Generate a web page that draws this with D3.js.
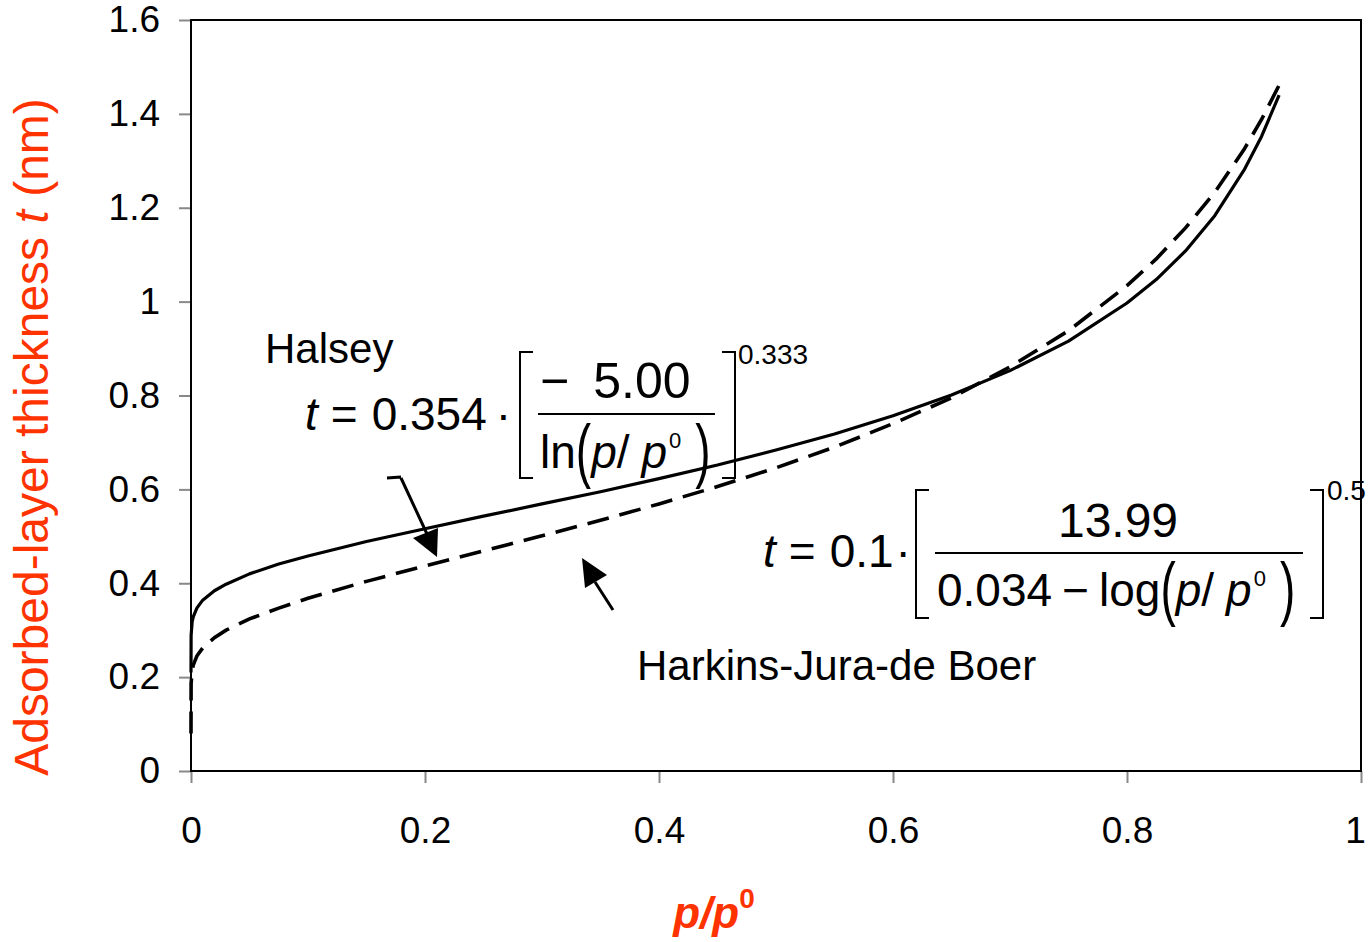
<!DOCTYPE html>
<html><head><meta charset="utf-8">
<script src="https://cdn.jsdelivr.net/npm/d3@7"></script>
<style>
body{margin:0;background:#fff}
svg{display:block}
text{font-family:"Liberation Sans",Arial,Helvetica,sans-serif}
</style>
</head><body>
<svg id="chart" width="1370" height="942"></svg>
<script>
// ---- data ----
const pRatio = [0, 0.0001, 0.001, 0.002, 0.005, 0.01, 0.02, 0.03, 0.05, 0.075, 0.1, 0.15, 0.2, 0.25, 0.3, 0.35, 0.4, 0.45, 0.5, 0.55, 0.6, 0.65, 0.7, 0.75, 0.8, 0.825, 0.85, 0.875, 0.9, 0.915, 0.93];
const halseyT = [0.21, 0.289, 0.318, 0.329, 0.347, 0.364, 0.384, 0.398, 0.420, 0.441, 0.458, 0.489, 0.516, 0.543, 0.569, 0.595, 0.623, 0.652, 0.684, 0.718, 0.757, 0.801, 0.853, 0.916, 0.997, 1.047, 1.108, 1.183, 1.280, 1.352, 1.440];
const hjbT = [0.08, 0.186, 0.215, 0.226, 0.245, 0.262, 0.284, 0.300, 0.324, 0.347, 0.368, 0.404, 0.437, 0.469, 0.501, 0.534, 0.569, 0.606, 0.646, 0.690, 0.740, 0.795, 0.861, 0.938, 1.034, 1.091, 1.157, 1.233, 1.324, 1.388, 1.461];
const xTicks = [0, 0.2, 0.4, 0.6, 0.8, 1];
const yTicks = [0, 0.2, 0.4, 0.6, 0.8, 1, 1.2, 1.4, 1.6];
const xTitle = ["p/", "p", "0"];
const yTitle = ["Adsorbed-layer thickness ", "t", " (nm)"];
const labelHalsey = "Halsey";
const labelHJB = "Harkins-Jura-de Boer";

// ---- layout ----
const svg = d3.select("#chart");
const L = 191, R = 1361, T = 20, B = 771;
const x = d3.scaleLinear().domain([0, 1]).range([L, R]);
const y = d3.scaleLinear().domain([0, 1.6]).range([B, T]);
const orange = "#FF3300";
const tickGray = "#888";

// axes
const fmt = d => d3.format("~g")(d);
const gx = svg.append("g").attr("transform", `translate(0,${B})`)
  .call(d3.axisBottom(x).tickValues(xTicks).tickFormat(fmt).tickSize(12).tickPadding(34));
const gy = svg.append("g").attr("transform", `translate(${L},0)`)
  .call(d3.axisLeft(y).tickValues(yTicks).tickFormat(fmt).tickSize(12).tickPadding(19));
[gx, gy].forEach(g => {
  g.select(".domain").remove();
  g.selectAll(".tick line").attr("stroke", tickGray).attr("stroke-width", 2);
  g.selectAll(".tick text").attr("fill", "#000").attr("font-size", 37)
    .attr("font-family", '"Liberation Sans",Arial,sans-serif');
});
// keep the last x label inside the picture, as in the reference
gx.selectAll(".tick text").filter(d => d === 1).attr("dx", -6);

// frame
svg.append("rect").attr("x", L).attr("y", T).attr("width", R - L).attr("height", B - T)
  .attr("fill", "none").attr("stroke", "#000").attr("stroke-width", 2);

// lines
const pts = vals => pRatio.map((p, i) => [p, vals[i]]);
const line = d3.line().x(d => x(d[0])).y(d => y(d[1]));
svg.append("path").attr("d", line(pts(halseyT))).attr("fill", "none")
  .attr("stroke", "#000").attr("stroke-width", 3.2).attr("stroke-linejoin", "round");
svg.append("path").attr("d", line(pts(hjbT))).attr("fill", "none")
  .attr("stroke", "#000").attr("stroke-width", 3.6).attr("stroke-dasharray", "22,11");

// axis titles
const xt = svg.append("text").attr("x", 714).attr("y", 928).attr("text-anchor", "middle")
  .attr("fill", orange).attr("font-size", 44).attr("font-weight", "bold").attr("font-style", "italic");
xt.append("tspan").text(xTitle[0]);
xt.append("tspan").text(xTitle[1]);
xt.append("tspan").attr("font-size", 28).attr("font-style", "normal").attr("dy", -20).text(xTitle[2]);

const yt = svg.append("text").attr("transform", "translate(48,437) rotate(-90)")
  .attr("text-anchor", "middle").attr("fill", orange).attr("font-size", 48);
yt.append("tspan").text(yTitle[0]);
yt.append("tspan").attr("font-style", "italic").text(yTitle[1]);
yt.append("tspan").text(yTitle[2]);

// annotation labels
svg.append("text").attr("x", 265).attr("y", 363).attr("font-size", 42).text(labelHalsey);
svg.append("text").attr("x", 637).attr("y", 680).attr("font-size", 42).text(labelHJB);

// equation helper
function row(parent, x0, y0, parts, fs) {
  const g = parent.append("g").attr("transform", `translate(${x0},${y0})`);
  let cx = 0;
  parts.forEach(p => {
    cx += (p.dx || 0);
    const t = g.append("text")
      .attr("transform", `translate(${cx},${p.dy || 0}) scale(1,${p.sy || 1})`)
      .attr("font-size", p.fs || fs)
      .attr("font-style", p.it ? "italic" : "normal")
      .text(p.s);
    cx += t.node().getComputedTextLength();
  });
  return { g, w: cx };
}
function bracket(x0, y0, y1, dir) {
  svg.append("path").attr("d", `M${x0 + dir * 13},${y0}H${x0}V${y1}H${x0 + dir * 13}`)
    .attr("fill", "none").attr("stroke", "#000").attr("stroke-width", 2);
}
function fracLine(x0, x1, yy) {
  svg.append("line").attr("x1", x0).attr("x2", x1).attr("y1", yy).attr("y2", yy)
    .attr("stroke", "#000").attr("stroke-width", 2);
}
const ratioParts = [
  { s: "(", sy: 1.55, dy: 6 },
  { s: "p", it: true },
  { s: "/" },
  { s: "p", it: true, dx: 12 },
  { s: "0", fs: 22, dy: -20, dx: 2 },
  { s: ")", sy: 1.55, dy: 6, dx: 14 }
];

// Halsey equation
row(svg, 305, 430, [
  { s: "t", it: true }, { s: "=", dx: 13 }, { s: "0.354", dx: 14 }, { s: "·", dx: 9 }
], 46);
bracket(520, 352, 478, 1);
row(svg, 540, 398, [{ s: "−" }, { s: "5.00", dx: 24 }], 50);
fracLine(538, 715, 414);
row(svg, 540, 468, [{ s: "ln" }].concat(ratioParts), 46);
bracket(735, 352, 478, -1);
svg.append("text").attr("x", 738).attr("y", 364).attr("font-size", 28).text("0.333");

// Harkins-Jura-de Boer equation
row(svg, 763, 567, [
  { s: "t", it: true }, { s: "=", dx: 13 }, { s: "0.1", dx: 14 }, { s: "·", dx: 2 }
], 46);
bracket(916, 490, 618, 1);
const jn = row(svg, 0, 537, [{ s: "13.99" }], 48);
jn.g.attr("transform", `translate(${1118 - jn.w / 2},537)`);
fracLine(935, 1303, 553);
row(svg, 937, 606, [{ s: "0.034" }, { s: "−", dx: 10 }, { s: "log", dx: 10 }].concat(ratioParts), 46);
bracket(1323, 490, 618, -1);
svg.append("text").attr("x", 1327).attr("y", 500).attr("font-size", 28).text("0.5");

// arrows
const arrowG = svg.append("g");
arrowG.append("path").attr("d", "M387,478 L401,477 M401,478 L427,534")
  .attr("stroke", "#000").attr("stroke-width", 3).attr("fill", "none");
arrowG.append("path").attr("d", "M413,538 L438,528 L437,557 Z").attr("fill", "#000");
arrowG.append("path").attr("d", "M613,610 L595,582")
  .attr("stroke", "#000").attr("stroke-width", 3).attr("fill", "none");
arrowG.append("path").attr("d", "M582,558 L607,575 L585,588 Z").attr("fill", "#000");
</script>
</body></html>
